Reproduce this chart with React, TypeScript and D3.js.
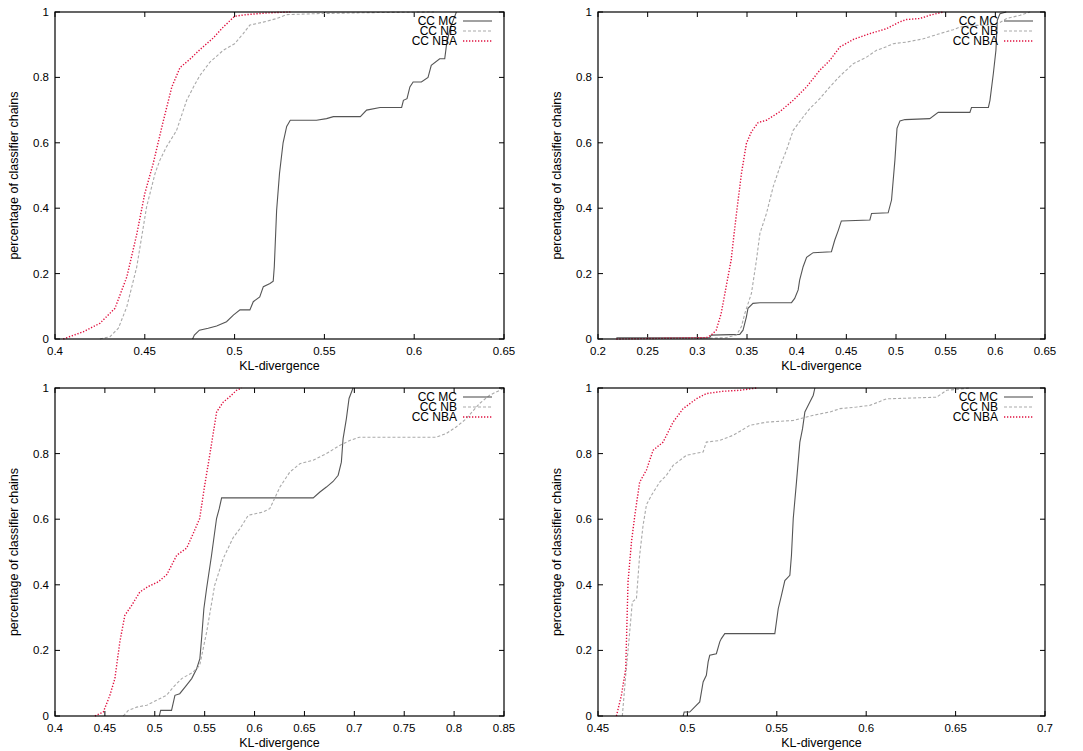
import React from "react";
import * as d3 from "d3";

type Pt = [number, number];

const seriesNames = ["CC MC", "CC NB", "CC NBA"];
const yTicks = [0, 0.2, 0.4, 0.6, 0.8, 1];

const p1XTicks = [0.4, 0.45, 0.5, 0.55, 0.6, 0.65];
const p2XTicks = [0.2, 0.25, 0.3, 0.35, 0.4, 0.45, 0.5, 0.55, 0.6, 0.65];
const p3XTicks = [0.4, 0.45, 0.5, 0.55, 0.6, 0.65, 0.7, 0.75, 0.8, 0.85];
const p4XTicks = [0.45, 0.5, 0.55, 0.6, 0.65, 0.7];

// Panel 1
const p1MC: Pt[] = [[0.4766,0],[0.4776,0.012],[0.4804,0.027],[0.4853,0.033],[0.49,0.04],[0.4955,0.053],[0.4993,0.073],[0.503,0.089],[0.5085,0.089],[0.5104,0.114],[0.514,0.129],[0.516,0.16],[0.5197,0.17],[0.5215,0.177],[0.5221,0.221],[0.5234,0.394],[0.525,0.506],[0.527,0.6],[0.529,0.65],[0.531,0.669],[0.5456,0.669],[0.5512,0.674],[0.555,0.68],[0.57,0.68],[0.5735,0.7],[0.581,0.708],[0.593,0.708],[0.594,0.73],[0.596,0.735],[0.5976,0.771],[0.5994,0.786],[0.604,0.786],[0.6077,0.8],[0.6095,0.837],[0.6142,0.857],[0.617,0.857],[0.618,0.9],[0.62,0.95],[0.6235,1]];
const p1NB: Pt[] = [[0.425,0],[0.4306,0.007],[0.4353,0.033],[0.44,0.099],[0.4455,0.22],[0.451,0.404],[0.4557,0.506],[0.4584,0.547],[0.462,0.587],[0.4677,0.638],[0.4733,0.73],[0.478,0.78],[0.4807,0.806],[0.4863,0.847],[0.4937,0.883],[0.5,0.903],[0.5048,0.934],[0.5085,0.96],[0.5159,0.969],[0.5234,0.98],[0.529,0.992],[0.5456,0.995],[0.5735,0.998],[0.611,1]];
const p1NBA: Pt[] = [[0.4046,0],[0.4157,0.022],[0.425,0.048],[0.4334,0.094],[0.44,0.19],[0.4455,0.32],[0.45,0.445],[0.4547,0.537],[0.46,0.66],[0.465,0.77],[0.4696,0.83],[0.475,0.855],[0.4807,0.885],[0.488,0.92],[0.4937,0.954],[0.5,0.987],[0.5067,0.992],[0.5178,0.997],[0.531,1]];

// Panel 2
const p2MC: Pt[] = [[0.2185,0.004],[0.3125,0.004],[0.314,0.012],[0.3427,0.014],[0.346,0.027],[0.3494,0.068],[0.351,0.094],[0.356,0.109],[0.363,0.111],[0.3948,0.111],[0.398,0.124],[0.4015,0.15],[0.403,0.18],[0.4065,0.221],[0.41,0.25],[0.4166,0.264],[0.435,0.267],[0.4383,0.302],[0.442,0.333],[0.445,0.361],[0.4737,0.364],[0.4754,0.384],[0.4921,0.386],[0.4955,0.425],[0.4989,0.547],[0.501,0.644],[0.504,0.667],[0.509,0.671],[0.534,0.674],[0.5425,0.693],[0.5744,0.693],[0.576,0.708],[0.593,0.708],[0.5946,0.73],[0.598,0.812],[0.6006,0.883],[0.602,0.975],[0.6047,0.995],[0.611,1]];
const p2NB: Pt[] = [[0.3024,0.002],[0.329,0.004],[0.3394,0.012],[0.3444,0.038],[0.3478,0.078],[0.3545,0.14],[0.3595,0.241],[0.363,0.323],[0.3696,0.384],[0.3763,0.465],[0.383,0.526],[0.3897,0.577],[0.3965,0.638],[0.4065,0.679],[0.4133,0.705],[0.4233,0.735],[0.4334,0.771],[0.4435,0.804],[0.457,0.842],[0.4704,0.862],[0.4804,0.883],[0.4872,0.89],[0.4972,0.903],[0.5106,0.908],[0.5274,0.918],[0.5442,0.934],[0.5577,0.946],[0.5644,0.954],[0.5778,0.959],[0.5879,0.959],[0.6013,0.962],[0.6113,0.98],[0.625,0.99],[0.635,1]];
const p2NBA: Pt[] = [[0.2185,0],[0.309,0.004],[0.314,0.012],[0.319,0.027],[0.324,0.078],[0.329,0.16],[0.334,0.241],[0.339,0.374],[0.3444,0.506],[0.3494,0.598],[0.3545,0.634],[0.3612,0.662],[0.3696,0.669],[0.383,0.695],[0.3965,0.73],[0.41,0.771],[0.4233,0.822],[0.4334,0.852],[0.4435,0.893],[0.457,0.916],[0.4737,0.934],[0.4905,0.949],[0.504,0.97],[0.5106,0.977],[0.524,0.98],[0.534,0.99],[0.5476,1]];

// Panel 3
const p3MC: Pt[] = [[0.5045,0],[0.5059,0.017],[0.5168,0.017],[0.5202,0.063],[0.525,0.068],[0.5319,0.094],[0.537,0.114],[0.542,0.144],[0.5452,0.175],[0.5469,0.236],[0.5492,0.327],[0.5519,0.388],[0.5569,0.49],[0.5619,0.602],[0.5646,0.632],[0.567,0.665],[0.6588,0.665],[0.6655,0.683],[0.672,0.698],[0.6787,0.715],[0.6838,0.734],[0.687,0.774],[0.6887,0.845],[0.692,0.906],[0.6947,0.968],[0.6987,1]];
const p3NB: Pt[] = [[0.4684,0],[0.4734,0.017],[0.4818,0.027],[0.492,0.033],[0.5018,0.048],[0.5118,0.063],[0.5185,0.088],[0.527,0.114],[0.5385,0.134],[0.545,0.154],[0.552,0.256],[0.56,0.398],[0.5686,0.48],[0.5786,0.544],[0.5853,0.571],[0.5937,0.612],[0.6086,0.622],[0.6153,0.632],[0.6254,0.698],[0.6354,0.744],[0.6454,0.769],[0.6587,0.78],[0.672,0.8],[0.6854,0.825],[0.6954,0.84],[0.705,0.85],[0.7455,0.85],[0.782,0.85],[0.792,0.861],[0.802,0.881],[0.812,0.906],[0.8256,0.953],[0.8356,0.978],[0.849,0.998]];
const p3NBA: Pt[] = [[0.44,0],[0.4484,0.012],[0.455,0.063],[0.46,0.114],[0.465,0.226],[0.47,0.307],[0.4768,0.337],[0.485,0.378],[0.4935,0.395],[0.5035,0.409],[0.512,0.431],[0.522,0.49],[0.532,0.512],[0.5385,0.556],[0.545,0.602],[0.55,0.703],[0.555,0.794],[0.562,0.927],[0.5686,0.957],[0.575,0.973],[0.582,0.993],[0.587,1]];

// Panel 4
const p4MC: Pt[] = [[0.4976,0],[0.4982,0.012],[0.5013,0.012],[0.504,0.027],[0.5069,0.043],[0.5088,0.104],[0.5106,0.124],[0.5116,0.165],[0.5125,0.185],[0.5162,0.19],[0.5181,0.226],[0.519,0.236],[0.5209,0.251],[0.5489,0.251],[0.5508,0.327],[0.5526,0.368],[0.5545,0.413],[0.5573,0.429],[0.5582,0.49],[0.5592,0.602],[0.561,0.713],[0.5629,0.835],[0.5644,0.876],[0.5657,0.927],[0.5685,0.957],[0.5704,0.978],[0.5713,1]];
const p4NB: Pt[] = [[0.4636,0],[0.4655,0.124],[0.4674,0.236],[0.4692,0.348],[0.4715,0.358],[0.4733,0.49],[0.4752,0.581],[0.4771,0.644],[0.4799,0.673],[0.4845,0.713],[0.4883,0.734],[0.492,0.764],[0.4995,0.795],[0.5088,0.805],[0.5106,0.835],[0.5181,0.84],[0.5256,0.856],[0.5349,0.886],[0.5443,0.896],[0.5592,0.901],[0.5705,0.917],[0.5798,0.927],[0.5853,0.937],[0.5946,0.942],[0.602,0.947],[0.6114,0.967],[0.6394,0.972],[0.645,0.993],[0.658,1]];
const p4NBA: Pt[] = [[0.4603,0],[0.4631,0.063],[0.4655,0.144],[0.4668,0.409],[0.4687,0.53],[0.4706,0.612],[0.4733,0.713],[0.4771,0.75],[0.4808,0.81],[0.4864,0.835],[0.492,0.896],[0.4976,0.937],[0.505,0.967],[0.5106,0.983],[0.52,0.99],[0.5293,0.993],[0.5386,1]];

const styles = [
  { stroke: "#555555", dash: undefined as string | undefined, width: 1.1 },
  { stroke: "#aaaaaa", dash: "3,2", width: 1.1 },
  { stroke: "#e0103f", dash: "1.3,1.7", width: 1.4 },
];

const font = "'Liberation Sans', Arial, Helvetica, sans-serif";

type PanelCfg = {
  left: number; right: number; top: number; bottom: number;
  domain: [number, number]; ticks: number[]; series: Pt[][];
};

const panels: PanelCfg[] = [
  { left: 55, right: 504, top: 12, bottom: 339, domain: [0.4, 0.65], ticks: p1XTicks, series: [p1MC, p1NB, p1NBA] },
  { left: 598, right: 1045, top: 12, bottom: 339, domain: [0.2, 0.65], ticks: p2XTicks, series: [p2MC, p2NB, p2NBA] },
  { left: 55, right: 504, top: 388, bottom: 716, domain: [0.4, 0.85], ticks: p3XTicks, series: [p3MC, p3NB, p3NBA] },
  { left: 598, right: 1045, top: 388, bottom: 716, domain: [0.45, 0.7], ticks: p4XTicks, series: [p4MC, p4NB, p4NBA] },
];

function fmt(v: number) {
  return String(+v.toFixed(2));
}

function Panel({ cfg }: { cfg: PanelCfg }) {
  const x = d3.scaleLinear().domain(cfg.domain).range([cfg.left, cfg.right]);
  const y = d3.scaleLinear().domain([0, 1]).range([cfg.bottom, cfg.top]);
  const line = d3.line<Pt>().x((d) => x(d[0])).y((d) => y(d[1]));
  const tl = 5;
  const cx = (cfg.left + cfg.right) / 2;
  const cy = (cfg.top + cfg.bottom) / 2;
  const legX = cfg.right - 12;
  return (
    <g>
      <defs>
        <clipPath id={`clip-${cfg.left}-${cfg.top}`}>
          <rect x={cfg.left} y={cfg.top - 1} width={cfg.right - cfg.left} height={cfg.bottom - cfg.top + 2} />
        </clipPath>
      </defs>
      {cfg.ticks.map((t) => (
        <g key={"x" + t}>
          <line x1={x(t)} x2={x(t)} y1={cfg.bottom} y2={cfg.bottom - tl} stroke="#000" />
          <line x1={x(t)} x2={x(t)} y1={cfg.top} y2={cfg.top + tl} stroke="#000" />
          <text x={x(t)} y={cfg.bottom + 16} textAnchor="middle" fontSize={11.5} fontFamily={font}>{fmt(t)}</text>
        </g>
      ))}
      {yTicks.map((t) => (
        <g key={"y" + t}>
          <line x1={cfg.left} x2={cfg.left + tl} y1={y(t)} y2={y(t)} stroke="#000" />
          <line x1={cfg.right} x2={cfg.right - tl} y1={y(t)} y2={y(t)} stroke="#000" />
          <text x={cfg.left - 6} y={y(t) + 4} textAnchor="end" fontSize={11.5} fontFamily={font}>{fmt(t)}</text>
        </g>
      ))}
      <g clipPath={`url(#clip-${cfg.left}-${cfg.top})`}>
        {cfg.series.map((s, i) => (
          <path key={i} d={line(s) || ""} fill="none" stroke={styles[i].stroke}
            strokeDasharray={styles[i].dash} strokeWidth={styles[i].width} />
        ))}
      </g>
      {seriesNames.map((n, i) => (
        <g key={n}>
          <text x={legX - 35} y={cfg.top + 13 + i * 10} textAnchor="end" fontSize={12} fontFamily={font}>{n}</text>
          <line x1={legX - 29} x2={legX} y1={cfg.top + 9 + i * 10} y2={cfg.top + 9 + i * 10}
            stroke={styles[i].stroke} strokeDasharray={styles[i].dash} strokeWidth={styles[i].width} />
        </g>
      ))}
      <rect x={cfg.left} y={cfg.top} width={cfg.right - cfg.left} height={cfg.bottom - cfg.top}
        fill="none" stroke="#000" strokeWidth={1.2} />
      <text x={cx} y={cfg.bottom + 31} textAnchor="middle" fontSize={12.5} fontFamily={font}>KL-divergence</text>
      <text transform={`translate(${cfg.left - 37},${cy}) rotate(-90)`} textAnchor="middle" fontSize={12.5} fontFamily={font}>
        percentage of classifier chains
      </text>
    </g>
  );
}

export default function App() {
  return (
    <svg width={1083} height={751} style={{ position: "absolute", left: 0, top: 0, background: "#fff" }}>
      <rect width={1083} height={751} fill="#fff" />
      {panels.map((p, i) => (
        <Panel key={i} cfg={p} />
      ))}
    </svg>
  );
}
